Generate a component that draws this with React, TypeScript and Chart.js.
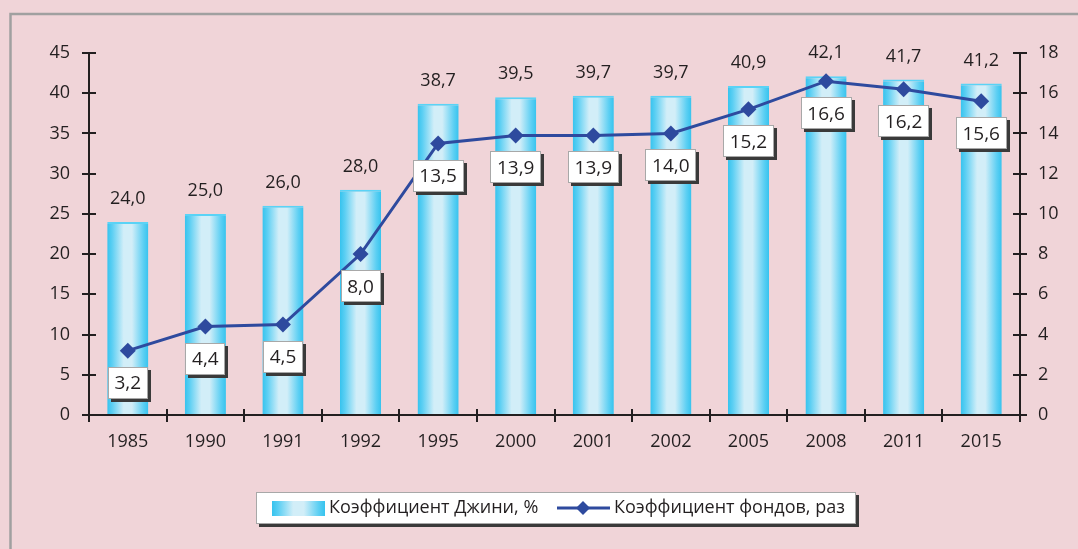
import React, { useEffect, useRef } from "react";
import { Chart, registerables } from "chart.js";

Chart.register(...registerables);

const categories = ["1985", "1990", "1991", "1992", "1995", "2000", "2001", "2002", "2005", "2008", "2011", "2015"];
const giniValues = [24.0, 25.0, 26.0, 28.0, 38.7, 39.5, 39.7, 39.7, 40.9, 42.1, 41.7, 41.2];
const fundsValues = [3.2, 4.4, 4.5, 8.0, 13.5, 13.9, 13.9, 14.0, 15.2, 16.6, 16.2, 15.6];
const leftAxis = { min: 0, max: 45, step: 5 };
const rightAxis = { min: 0, max: 18, step: 2 };
const seriesNames = ["Коэффициент Джини, %", "Коэффициент фондов, раз"];

const FONT = "'Open Sans', 'DejaVu Sans', sans-serif";
const TEXT = "#231f20";
const LINE = "#2e4a9e";
const BG = "#f0d4d8";

const fmt = (v: number) => v.toFixed(1).replace(".", ",");

function barGradient(ctx: CanvasRenderingContext2D, x0: number, x1: number) {
  const g = ctx.createLinearGradient(x0, 0, x1, 0);
  g.addColorStop(0, "#36c3ee");
  g.addColorStop(0.12, "#5ccff3");
  g.addColorStop(0.4, "#d2eef8");
  g.addColorStop(0.6, "#d2eef8");
  g.addColorStop(0.88, "#5ccff3");
  g.addColorStop(1, "#36c3ee");
  return g;
}

const BAR_PCT = 0.53;

const decorPlugin = {
  id: "decor",
  afterDatasetsDraw(chart: any) {
    const ctx: CanvasRenderingContext2D = chart.ctx;
    const ca = chart.chartArea;
    const xs = chart.scales.x;
    const yl = chart.scales.y;
    const yr = chart.scales.y1;
    ctx.save();

    // outer frame
    ctx.strokeStyle = "#a0a0a0";
    ctx.lineWidth = 2.5;
    ctx.beginPath();
    ctx.moveTo(10.5, chart.height);
    ctx.lineTo(10.5, 14);
    ctx.lineTo(chart.width, 14);
    ctx.stroke();

    // axes
    ctx.strokeStyle = TEXT;
    ctx.lineWidth = 2;
    ctx.beginPath();
    ctx.moveTo(ca.left, ca.top);
    ctx.lineTo(ca.left, ca.bottom);
    ctx.moveTo(ca.right, ca.top);
    ctx.lineTo(ca.right, ca.bottom);
    ctx.moveTo(ca.left, ca.bottom);
    ctx.lineTo(ca.right, ca.bottom);
    for (let v = leftAxis.min; v <= leftAxis.max; v += leftAxis.step) {
      const y = Math.round(yl.getPixelForValue(v));
      ctx.moveTo(ca.left - 7, y);
      ctx.lineTo(ca.left + 7, y);
    }
    for (let v = rightAxis.min; v <= rightAxis.max; v += rightAxis.step) {
      const y = Math.round(yr.getPixelForValue(v));
      ctx.moveTo(ca.right - 7, y);
      ctx.lineTo(ca.right + 7, y);
    }
    const cw = (ca.right - ca.left) / categories.length;
    for (let i = 0; i <= categories.length; i++) {
      const x = Math.round(ca.left + i * cw);
      ctx.moveTo(x, ca.bottom - 6);
      ctx.lineTo(x, ca.bottom + 7);
    }
    ctx.stroke();

    // bar value labels
    ctx.fillStyle = TEXT;
    ctx.font = `18px ${FONT}`;
    ctx.textAlign = "center";
    ctx.textBaseline = "middle";
    giniValues.forEach((v, i) => {
      const x = xs.getPixelForValue(i);
      const y = yl.getPixelForValue(v) - 23;
      ctx.fillText(fmt(v), x, y);
    });

    // line value labels in boxes
    ctx.font = `19px ${FONT}`;
    fundsValues.forEach((v, i) => {
      const x = xs.getPixelForValue(i);
      const cy = yr.getPixelForValue(v) + 32;
      const t = fmt(v);
      const w = Math.round(ctx.measureText(t).width + 13);
      const h = 32;
      const bx = Math.round(x - w / 2);
      const by = Math.round(cy - h / 2);
      ctx.fillStyle = "#3a3a3a";
      ctx.fillRect(bx + 3, by + 3, w, h);
      ctx.fillStyle = "#ffffff";
      ctx.fillRect(bx, by, w, h);
      ctx.strokeStyle = "#a8a8a8";
      ctx.lineWidth = 1;
      ctx.strokeRect(bx + 0.5, by + 0.5, w - 1, h - 1);
      ctx.fillStyle = TEXT;
      ctx.fillText(t, x, cy + 1);
    });

    // legend
    const lx = 256, ly = 492, lw = 600, lh = 32;
    ctx.fillStyle = "#3a3a3a";
    ctx.fillRect(lx + 3, ly + 3, lw, lh);
    ctx.fillStyle = "#ffffff";
    ctx.fillRect(lx, ly, lw, lh);
    ctx.strokeStyle = "#a8a8a8";
    ctx.lineWidth = 1;
    ctx.strokeRect(lx + 0.5, ly + 0.5, lw - 1, lh - 1);
    const my = ly + lh / 2;
    ctx.fillStyle = barGradient(ctx, 272, 325);
    ctx.fillRect(272, my - 7, 53, 15);
    ctx.font = `18px ${FONT}`;
    ctx.textAlign = "left";
    ctx.fillStyle = TEXT;
    ctx.fillText(seriesNames[0], 329, my);
    ctx.strokeStyle = LINE;
    ctx.lineWidth = 3;
    ctx.beginPath();
    ctx.moveTo(557, my);
    ctx.lineTo(610, my);
    ctx.stroke();
    ctx.fillStyle = LINE;
    ctx.beginPath();
    ctx.moveTo(583, my - 7);
    ctx.lineTo(590, my);
    ctx.lineTo(583, my + 7);
    ctx.lineTo(576, my);
    ctx.closePath();
    ctx.fill();
    ctx.fillStyle = TEXT;
    ctx.fillText(seriesNames[1], 614, my);

    ctx.restore();
  },
};

export default function App() {
  const ref = useRef<HTMLCanvasElement | null>(null);
  useEffect(() => {
    document.body.style.margin = "0";
    const canvas = ref.current!;
    const chart = new Chart(canvas, {
      type: "bar",
      data: {
        labels: categories,
        datasets: [
          {
            type: "line",
            label: seriesNames[1],
            data: fundsValues,
            yAxisID: "y1",
            borderColor: LINE,
            backgroundColor: LINE,
            borderWidth: 3,
            pointStyle: "rectRot",
            pointRadius: 8,
            pointBorderWidth: 0,
            pointBackgroundColor: LINE,
            tension: 0,
            order: 0,
          } as any,
          {
            type: "bar",
            label: seriesNames[0],
            data: giniValues,
            yAxisID: "y",
            barPercentage: BAR_PCT,
            categoryPercentage: 1,
            borderWidth: { top: 2, left: 0, right: 0, bottom: 0 },
            borderColor: "#5ad3f6",
            borderSkipped: "bottom",
            backgroundColor: (c: any) => {
              const ch = c.chart;
              const ca = ch.chartArea;
              if (!ca || !ch.scales.x) return "#7fd9f4";
              const x = ch.scales.x.getPixelForValue(c.dataIndex);
              const half = ((ca.right - ca.left) / categories.length) * BAR_PCT / 2;
              return barGradient(ch.ctx, x - half, x + half);
            },
            order: 1,
          } as any,
        ],
      },
      options: {
        animation: false,
        responsive: false,
        maintainAspectRatio: false,
        layout: { padding: { top: 53, left: 0, right: 0, bottom: 0 } },
        plugins: { legend: { display: false }, tooltip: { enabled: false } },
        scales: {
          x: {
            grid: { display: false, drawTicks: false },
            border: { display: false },
            ticks: { color: TEXT, font: { family: FONT, size: 18 }, padding: 16, maxRotation: 0 },
            afterFit: (s: any) => { s.height = 134; },
          },
          y: {
            position: "left",
            min: leftAxis.min,
            max: leftAxis.max,
            grid: { display: false, drawTicks: false },
            border: { display: false },
            ticks: { stepSize: leftAxis.step, color: TEXT, font: { family: FONT, size: 18 }, padding: 19 },
            afterFit: (s: any) => { s.width = 89; },
          },
          y1: {
            position: "right",
            min: rightAxis.min,
            max: rightAxis.max,
            grid: { display: false, drawTicks: false },
            border: { display: false },
            ticks: { stepSize: rightAxis.step, color: TEXT, font: { family: FONT, size: 18 }, padding: 18 },
            afterFit: (s: any) => { s.width = 58; },
          },
        },
      },
      plugins: [decorPlugin],
    });
    return () => chart.destroy();
  }, []);
  return (
    <div style={{ position: "fixed", left: 0, top: 0, width: 1078, height: 549, background: BG }}>
      <canvas ref={ref} width={1078} height={549} style={{ display: "block", width: 1078, height: 549 }} />
    </div>
  );
}
